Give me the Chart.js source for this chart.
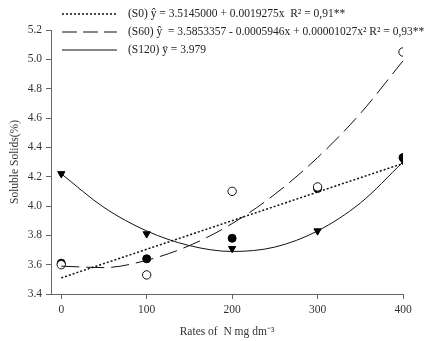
<!DOCTYPE html>
<html>
<head>
<meta charset="utf-8">
<script src="https://cdn.jsdelivr.net/npm/chart.js@4/dist/chart.umd.min.js"></script>
<style>
html,body{margin:0;padding:0;background:#fff;}
#wrap{width:443px;height:341px;position:relative;}
</style>
</head>
<body>
<div id="wrap"><canvas id="c" width="443" height="341"></canvas></div>
<script>
// ---- data ----
const rates = [0, 100, 200, 300, 400];
const s0Obs = [3.61, 3.64, 3.78, 4.12, 4.33];     // filled circles
const s60Obs = [3.60, 3.53, 4.10, 4.13, 5.05];    // open circles
const s120Obs = [4.22, 3.81, 3.71, 3.83, 4.31];   // triangles
const s0FitX = [0, 400];
const s0Fit = [3.51, 4.29];
const curveX = [0, 50, 100, 150, 200, 250, 300, 350, 400];
const s60Fit = [3.59, 3.58, 3.63, 3.73, 3.88, 4.08, 4.33, 4.63, 4.99];
const s120Fit = [4.22, 3.99, 3.83, 3.73, 3.69, 3.72, 3.83, 4.02, 4.30];
const xTicks = [0, 100, 200, 300, 400];
const yTicks = [3.4, 3.6, 3.8, 4.0, 4.2, 4.4, 4.6, 4.8, 5.0, 5.2];
const legendLabels = [
  '(S0) \u0177 = 3.5145000 + 0.0019275x  R\u00B2 = 0,91**',
  '(S60) \u0177  = 3.5853357 - 0.0005946x + 0.00001027x\u00B2 R\u00B2 = 0,93**',
  '(S120) \u0233 = 3.979'
];
const xTitle = 'Rates of  N mg dm\u207B\u00B3';
const yTitle = 'Soluble Solids(%)';

const pts = (xs, ys) => xs.map((x, i) => ({x: x, y: ys[i]}));
const FONT = '"Liberation Serif", "Times New Roman", serif';
const AXIS = '#666';
const TXT = '#333';

const legendPlugin = {
  id: 'customLegend',
  afterDraw(chart) {
    const ctx = chart.ctx;
    const rows = [14, 32, 50];
    const dashes = [[2, 2], [15, 6], []];
    const widths = [1.5, 1, 1.2];
    ctx.save();
    rows.forEach((y, i) => {
      ctx.beginPath();
      ctx.setLineDash(dashes[i]);
      ctx.lineWidth = widths[i];
      ctx.strokeStyle = '#111';
      ctx.moveTo(62, y);
      ctx.lineTo(117, y);
      ctx.stroke();
      ctx.setLineDash([]);
      ctx.fillStyle = '#222';
      ctx.font = '11.5px ' + FONT;
      ctx.textBaseline = 'middle';
      ctx.fillText(legendLabels[i], 128, y);
    });
    ctx.restore();
  }
};

new Chart(document.getElementById('c'), {
  type: 'scatter',
  data: {
    datasets: [
      {label: 'S0 fit', data: pts(s0FitX, s0Fit), showLine: true, borderColor: '#111', borderWidth: 1.5, borderDash: [2, 2], pointRadius: 0},
      {label: 'S60 fit', data: pts(curveX, s60Fit), showLine: true, borderColor: '#111', borderWidth: 1, borderDash: [18, 7], pointRadius: 0, cubicInterpolationMode: 'monotone'},
      {label: 'S120 fit', data: pts(curveX, s120Fit), showLine: true, borderColor: '#111', borderWidth: 1, pointRadius: 0, cubicInterpolationMode: 'monotone'},
      {label: 'S60', data: pts(rates, s60Obs), showLine: false, pointStyle: 'circle', pointRadius: 4.2, backgroundColor: '#fff', borderColor: '#111', borderWidth: 1},
      {label: 'S0', data: pts(rates, s0Obs), showLine: false, pointStyle: 'circle', pointRadius: 4, backgroundColor: '#000', borderColor: '#000', borderWidth: 1},
      {label: 'S120', data: pts(rates, s120Obs), showLine: false, pointStyle: 'triangle', rotation: 180, pointRadius: 4.2, backgroundColor: '#000', borderColor: '#000', borderWidth: 1}
    ]
  },
  options: {
    responsive: false,
    animation: false,
    layout: {padding: {top: 30, right: 40, left: 0, bottom: 0}},
    plugins: {legend: {display: false}, tooltip: {enabled: false}},
    scales: {
      x: {
        type: 'linear', min: -12, max: 400,
        afterBuildTicks: s => { s.ticks = xTicks.map(v => ({value: v})); },
        afterFit: s => { s.height = 47; },
        grid: {display: true, drawOnChartArea: false, drawTicks: true, tickLength: 5, color: AXIS},
        border: {display: true, color: AXIS, width: 1},
        ticks: {color: TXT, font: {family: FONT, size: 11.5}, padding: 4, maxRotation: 0},
        title: {display: true, text: xTitle, color: TXT, font: {family: FONT, size: 11.5}, padding: {top: 4, bottom: 2}}
      },
      y: {
        type: 'linear', min: 3.4, max: 5.2,
        afterBuildTicks: s => { s.ticks = yTicks.map(v => ({value: v})); },
        afterFit: s => { s.width = 51; },
        grid: {display: true, drawOnChartArea: false, drawTicks: true, tickLength: 5, color: AXIS},
        border: {display: true, color: AXIS, width: 1},
        ticks: {color: TXT, font: {family: FONT, size: 11.5}, padding: 4, callback: v => Number(v).toFixed(1)},
        title: {display: true, text: yTitle, color: TXT, font: {family: FONT, size: 11.5}, padding: {top: 8, bottom: 0}}
      }
    }
  },
  plugins: [legendPlugin]
});
</script>
</body>
</html>
